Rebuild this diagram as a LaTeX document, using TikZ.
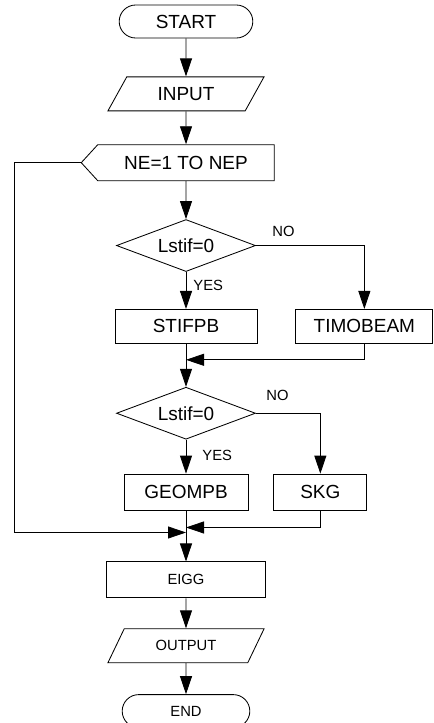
\documentclass[tikz,border=0pt]{standalone}
\usepackage{fontspec}
\setmainfont{Liberation Sans}
\usepackage{tikz}
\usetikzlibrary{arrows.meta,positioning,shapes.geometric,shapes.misc,shapes.symbols}

\begin{document}
\begin{tikzpicture}[
                line width=0.6pt,
                font=\fontsize{13.5}{16}\selectfont,
                term/.style={draw, rounded rectangle, minimum width=3.575cm, minimum height=0.825cm},
                io/.style={draw, trapezium, trapezium left angle=65, trapezium right angle=115, trapezium stretches=true, minimum width=3.925cm, minimum height=0.85cm},
                loopbox/.style={draw, signal, signal to=west, signal pointer angle=95, minimum width=4.825cm, minimum height=0.9cm},
                test/.style={draw, diamond, aspect=2.7, inner sep=0pt, minimum width=3.475cm, minimum height=1.3cm},
                proc/.style={draw, rectangle, minimum height=0.85cm},
                small/.style={font=\fontsize{10.5}{12}\selectfont},
                lbl/.style={small, inner sep=0pt},
                flow/.style={-{Triangle[length=4.5mm, width=3mm]}}
            ]
            \useasboundingbox (0,0) rectangle (10.825,-18.075);
            \node[term] (start) at (4.65,-0.5375) {START};
            \node[io, below=0.95cm of start] (input) {INPUT};
            \node[loopbox, below=0.825cm of input] (loop) {NE=1 TO NEP};
            \node[test, below=0.95cm of loop] (d1) {Lstif=0};
            \node[proc, minimum width=3.55cm, below=0.925cm of d1] (stifpb) {STIFPB};
            \node[proc, minimum width=3.425cm, right=0.95cm of stifpb] (timo) {TIMOBEAM};
            \node[test, below=1.075cm of stifpb] (d2) {Lstif=0};
            \node[proc, minimum width=3.1cm, minimum height=0.9cm, below=0.85cm of d2] (geompb) {GEOMPB};
            \node[proc, minimum width=2.325cm, minimum height=0.9cm, right=0.625cm of geompb] (skg) {SKG};
            \node[proc, small, minimum width=3.975cm, minimum height=0.9cm, below=1.275cm of geompb] (eigg) {EIGG};
            \node[io, small, below=0.75cm of eigg] (output) {OUTPUT};
            \node[term, small, minimum width=3.425cm, below=0.775cm of output] (end) {END};
            % joins on the main line
            \coordinate (m1) at ([yshift=-0.4cm]stifpb.south);
            \coordinate (m2) at ([yshift=-0.425cm]geompb.south);
            \coordinate (m3) at ([yshift=-0.55cm]geompb.south);
            \coordinate (edge) at (0.35,0);
            \draw[flow] (start) -- (input);
            \draw[flow] (input) -- (loop);
            \draw[flow] (loop) -- (d1);
            \draw[flow] (d1) -- (stifpb);
            \draw[flow] (d1.east) -| (timo.north);
            \draw[flow] (timo.south) |- (m1);
            \draw[flow] (stifpb) -- (d2);
            \draw[flow] (d2) -- (geompb);
            \draw[flow] (d2.east) -| (skg.north);
            \draw[flow] (skg.south) |- (m2);
            \draw[flow] (loop.west) -- (loop.west -| edge) |- (m3);
            \draw[flow] (geompb) -- (eigg);
            \draw[flow] (eigg) -- (output);
            \draw[flow] (output) -- (end);
            % branch labels
            \node[lbl, anchor=north west] (yes1) at ([xshift=0.175cm, yshift=-0.2cm]d1.south) {YES};
            \node[lbl, anchor=south west] (no1) at ([xshift=0.4cm, yshift=0.2cm]d1.east) {NO};
            \node[lbl, anchor=north west] (yes2) at ([xshift=0.4cm, yshift=-0.25cm]d2.south) {YES};
            \node[lbl, anchor=south west] (no2) at ([xshift=0.25cm, yshift=0.3cm]d2.east) {NO};
        \end{tikzpicture}
\end{document}
